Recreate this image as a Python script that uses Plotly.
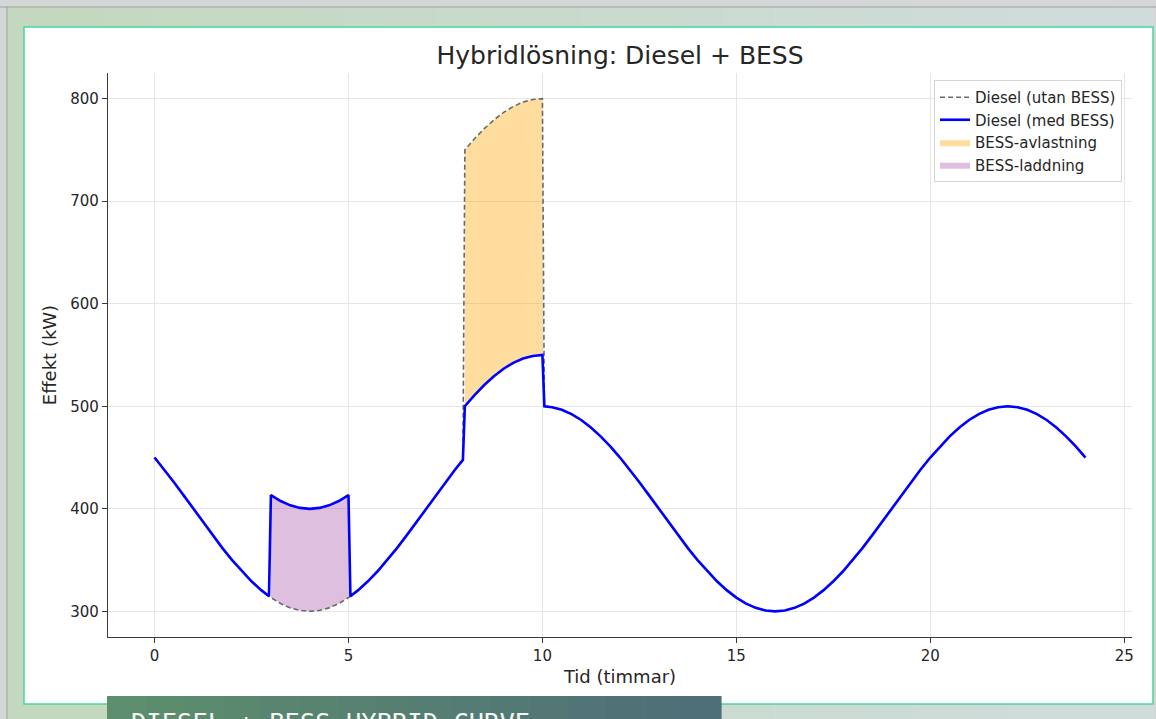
import plotly.graph_objects as go

# ---------------- data ----------------
hours = [0, 0.25, 0.5, 0.75, 1, 1.25, 1.5, 1.75, 2, 2.25, 2.5, 2.75, 2.95,
         3, 3.25, 3.5, 3.75, 4, 4.25, 4.5, 4.75, 5, 5.05,
         5.25, 5.5, 5.75, 6, 6.25, 6.5, 6.75, 7, 7.25, 7.5, 7.75, 7.95,
         8, 8.25, 8.5, 8.75, 9, 9.25, 9.5, 9.75, 10, 10.05,
         10.25, 10.5, 10.75, 11, 11.25, 11.5, 11.75, 12, 12.25, 12.5, 12.75, 13,
         13.25, 13.5, 13.75, 14, 14.25, 14.5, 14.75, 15, 15.25, 15.5, 15.75, 16,
         16.25, 16.5, 16.75, 17, 17.25, 17.5, 17.75, 18, 18.25, 18.5, 18.75, 19,
         19.25, 19.5, 19.75, 20, 20.25, 20.5, 20.75, 21, 21.25, 21.5, 21.75, 22,
         22.25, 22.5, 22.75, 23, 23.25, 23.5, 23.75, 24]

# Diesel load without battery (kW)
diesel_utan = [450, 438.3, 425.9, 413.1, 400, 386.9, 374.1, 361.7, 350, 339.1, 329.3, 320.7, 314.7,
               313.4, 307.6, 303.4, 300.9, 300, 300.9, 303.4, 307.6, 313.4, 314.7,
               320.7, 329.3, 339.1, 350, 361.7, 374.1, 386.9, 400, 413.1, 425.9, 438.3, 447.7,
               750, 760.9, 770.7, 779.3, 786.6, 792.4, 796.6, 799.1, 800, 500,
               499.1, 496.6, 492.4, 486.6, 479.3, 470.7, 460.9, 450, 438.3, 425.9, 413.1, 400,
               386.9, 374.1, 361.7, 350, 339.1, 329.3, 320.7, 313.4, 307.6, 303.4, 300.9, 300,
               300.9, 303.4, 307.6, 313.4, 320.7, 329.3, 339.1, 350, 361.7, 374.1, 386.9, 400,
               413.1, 425.9, 438.3, 450, 460.9, 470.7, 479.3, 486.6, 492.4, 496.6, 499.1, 500,
               499.1, 496.6, 492.4, 486.6, 479.3, 470.7, 460.9, 450]

# Diesel load with battery (kW)
diesel_med = [450, 438.3, 425.9, 413.1, 400, 386.9, 374.1, 361.7, 350, 339.1, 329.3, 320.7, 314.7,
              413.4, 407.6, 403.4, 400.9, 400, 400.9, 403.4, 407.6, 413.4, 314.7,
              320.7, 329.3, 339.1, 350, 361.7, 374.1, 386.9, 400, 413.1, 425.9, 438.3, 447.7,
              500, 510.9, 520.7, 529.3, 536.6, 542.4, 546.6, 549.1, 550, 500,
              499.1, 496.6, 492.4, 486.6, 479.3, 470.7, 460.9, 450, 438.3, 425.9, 413.1, 400,
              386.9, 374.1, 361.7, 350, 339.1, 329.3, 320.7, 313.4, 307.6, 303.4, 300.9, 300,
              300.9, 303.4, 307.6, 313.4, 320.7, 329.3, 339.1, 350, 361.7, 374.1, 386.9, 400,
              413.1, 425.9, 438.3, 450, 460.9, 470.7, 479.3, 486.6, 492.4, 496.6, 499.1, 500,
              499.1, 496.6, 492.4, 486.6, 479.3, 470.7, 460.9, 450]

discharge_window = (8, 10)   # BESS-avlastning
charge_window = (3, 5)       # BESS-laddning

x_ticks = [0, 5, 10, 15, 20, 25]
y_ticks = [300, 400, 500, 600, 700, 800]

title_text = "Hybridlösning: Diesel + BESS"
x_label = "Tid (timmar)"
y_label = "Effekt (kW)"
banner_text = "DIESEL + BESS HYBRID CURVE"

# ---------------- figure ----------------
W, H = 1156, 719
L, R, T, B = 108, 24, 73, 82
PW, PH = W - L - R, H - T - B


def px(xp):
    return (xp - L) / PW


def py(yp):
    return (H - B - yp) / PH


def window(lo, hi):
    idx = [i for i, t in enumerate(hours) if lo <= t <= hi]
    return ([hours[i] for i in idx], [diesel_utan[i] for i in idx], [diesel_med[i] for i in idx])


font_fam = "DejaVu Sans, Verdana, sans-serif"
fig = go.Figure()

# orange: between diesel_med (lower) and diesel_utan (upper)
dx, du, dm = window(*discharge_window)
fig.add_trace(go.Scatter(x=dx, y=dm, mode="lines", line=dict(width=0, color="rgba(0,0,0,0)"),
                         showlegend=False, hoverinfo="skip"))
fig.add_trace(go.Scatter(x=dx, y=du, mode="lines", line=dict(width=0, color="rgba(0,0,0,0)"),
                         fill="tonexty", fillcolor="rgba(255,165,0,0.38)",
                         name="BESS-avlastning", legendrank=3))

# purple: between diesel_utan (lower) and diesel_med (upper)
cx, cu, cm = window(*charge_window)
fig.add_trace(go.Scatter(x=cx, y=cu, mode="lines", line=dict(width=0, color="rgba(0,0,0,0)"),
                         showlegend=False, hoverinfo="skip"))
fig.add_trace(go.Scatter(x=cx, y=cm, mode="lines", line=dict(width=0, color="rgba(0,0,0,0)"),
                         fill="tonexty", fillcolor="rgba(128,0,128,0.25)",
                         name="BESS-laddning", legendrank=4))

fig.add_trace(go.Scatter(x=hours, y=diesel_utan, mode="lines",
                         line=dict(color="#6a6a6a", width=1.6, dash="5px,3px"),
                         name="Diesel (utan BESS)", legendrank=1))
fig.add_trace(go.Scatter(x=hours, y=diesel_med, mode="lines",
                         line=dict(color="#0000ff", width=2.6),
                         name="Diesel (med BESS)", legendrank=2))

# ---------------- page decoration ----------------
shapes = []


def hexmix(c1, c2, f):
    a = [int(c1[i:i + 2], 16) for i in (1, 3, 5)]
    b = [int(c2[i:i + 2], 16) for i in (1, 3, 5)]
    return "#" + "".join(f"{round(a[k] + (b[k] - a[k]) * f):02x}" for k in range(3))


# outer greenish frame (gradient approximated by slices)
n = 24
x0, x1 = 7, 1153
for k in range(n):
    xa = x0 + (x1 - x0) * k / n
    xb = x0 + (x1 - x0) * (k + 1) / n + 0.6
    shapes.append(dict(type="rect", xref="paper", yref="paper", layer="below",
                       x0=px(xa), x1=px(xb), y0=py(7), y1=py(H + 5),
                       fillcolor=hexmix("#c3d8bf", "#d0dcdc", k / (n - 1)), line=dict(width=0)))
shapes.append(dict(type="line", xref="paper", yref="paper", layer="below",
                   x0=px(0), x1=px(W), y0=py(7), y1=py(7), line=dict(color="#9aa59a", width=1)))
shapes.append(dict(type="line", xref="paper", yref="paper", layer="below",
                   x0=px(7), x1=px(7), y0=py(7), y1=py(H), line=dict(color="#9aa59a", width=1)))
# white panel
shapes.append(dict(type="rect", xref="paper", yref="paper", layer="below",
                   x0=px(24), x1=px(1153), y0=py(704), y1=py(27),
                   fillcolor="#ffffff", line=dict(color="#46d79b", width=1.5)))
# dark banner at the bottom
n2 = 16
for k in range(n2):
    xa = 107 + (721 - 107) * k / n2
    xb = 107 + (721 - 107) * (k + 1) / n2 + 0.6
    shapes.append(dict(type="rect", xref="paper", yref="paper", layer="above",
                       x0=px(xa), x1=px(xb), y0=py(H + 5), y1=py(696),
                       fillcolor=hexmix("#5d8e6d", "#4e6e78", k / (n2 - 1)), line=dict(width=0)))

annotations = [dict(text=banner_text, xref="paper", yref="paper", x=px(129), y=py(705),
                    xanchor="left", yanchor="top", showarrow=False,
                    font=dict(family="DejaVu Sans Mono, monospace", size=25.5, color="#f2f5f3"))]

axis_common = dict(showline=True, linecolor="#3a3a3a", linewidth=1.3, mirror=False,
                   ticks="outside", ticklen=5, tickwidth=1.2, tickcolor="#3a3a3a",
                   showgrid=True, gridcolor="#e6e6e6", gridwidth=1, zeroline=False,
                   tickfont=dict(family=font_fam, size=15, color="#262626"))

fig.update_layout(
    width=W, height=H, autosize=False,
    margin=dict(l=L, r=R, t=T, b=B, pad=0),
    paper_bgcolor="#d4d6d7", plot_bgcolor="rgba(0,0,0,0)",
    title=dict(text=title_text, x=px(620), xref="paper", xanchor="center",
               y=1 - 55 / H, yref="container", yanchor="middle",
               font=dict(family=font_fam, size=25, color="#262626")),
    xaxis=dict(range=[-1.2, 25.2], tickvals=x_ticks,
               title=dict(text=x_label, standoff=6, font=dict(family=font_fam, size=18, color="#262626")),
               **axis_common),
    yaxis=dict(range=[275, 825], tickvals=y_ticks,
               title=dict(text=y_label, standoff=8, font=dict(family=font_fam, size=18, color="#262626")),
               **axis_common),
    legend=dict(x=px(1122), y=py(80), xanchor="right", yanchor="top", traceorder="normal",
                bgcolor="rgba(255,255,255,0.85)", bordercolor="#d6d6d6", borderwidth=1,
                font=dict(family=font_fam, size=15, color="#262626"),
                tracegroupgap=0, itemwidth=30),
    shapes=shapes,
    annotations=annotations,
    showlegend=True,
)

fig.write_html("out.html", config={"displayModeBar": False},
               post_script="document.body.style.margin='0';document.body.style.overflow='hidden';")
